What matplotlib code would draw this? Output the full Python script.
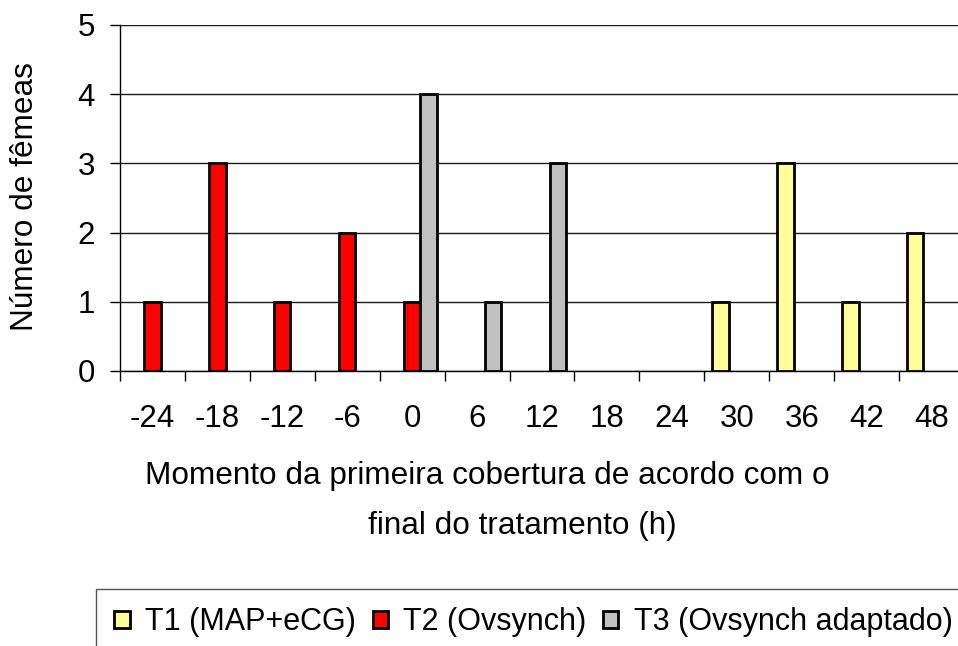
import numpy as np
import matplotlib
matplotlib.use('Agg')
import matplotlib.pyplot as plt

plt.rcParams['font.family'] = ['Liberation Sans', 'DejaVu Sans']

# dados
horas = ['-24', '-18', '-12', '-6', '0', '6', '12', '18', '24', '30', '36', '42', '48']
t1 = [0, 0, 0, 0, 0, 0, 0, 0, 0, 1, 3, 1, 2]
t2 = [1, 3, 1, 2, 1, 0, 0, 0, 0, 0, 0, 0, 0]
t3 = [0, 0, 0, 0, 4, 1, 3, 0, 0, 0, 0, 0, 0]
series = [
    ('T1 (MAP+eCG)', t1, '#FFFF99'),
    ('T2 (Ovsynch)', t2, '#FF0000'),
    ('T3 (Ovsynch adaptado)', t3, '#C0C0C0'),
]

W, H = 958, 646
fig = plt.figure(figsize=(W / 100, H / 100), dpi=100)
ax = fig.add_axes([120 / W, 1 - 371 / H, 844 / W, 346 / H])

x = np.arange(len(horas))
largura = 0.25
handles = []
for i, (nome, valores, cor) in enumerate(series):
    valores = np.array(valores)
    idx = np.nonzero(valores)[0]
    ax.bar(x[idx] + (i - 1) * largura, valores[idx], largura,
           color=cor, edgecolor='black', linewidth=2, zorder=3)
    handles.append(plt.Rectangle((0, 0), 1, 1, facecolor=cor,
                                 edgecolor='black', linewidth=2))

ax.set_xlim(-0.5, len(horas) - 0.5)
ax.set_ylim(0, 5)
ax.set_yticks(range(6))
ax.yaxis.grid(True, color='#1a1a1a', linewidth=1.0, zorder=0)
ax.set_axisbelow(True)

# rótulos no centro, marcas entre categorias
ax.set_xticks(x)
ax.set_xticklabels(horas)
ax.set_xticks(np.arange(-0.5, len(horas), 1), minor=True)
ax.tick_params(axis='x', which='major', length=0, pad=24, labelsize=22.5)
ax.tick_params(axis='x', which='minor', length=7, width=1, direction='out')
ax.tick_params(axis='y', length=7, width=1, direction='out', pad=11, labelsize=22.5)

for s in ['top', 'right']:
    ax.spines[s].set_visible(False)
ax.spines['left'].set_linewidth(1)
ax.spines['bottom'].set_linewidth(1)

fig.text(25 / W, 1 - 197 / H, 'Número de fêmeas', rotation=90,
         ha='center', va='center', fontsize=22.7)
fig.text(487 / W, 1 - 476 / H, 'Momento da primeira cobertura de acordo com o',
         ha='center', va='center', fontsize=22.7)
fig.text(522 / W, 1 - 526 / H, 'final do tratamento (h)',
         ha='center', va='center', fontsize=22.7)

leg = fig.legend(handles, [s[0] for s in series], loc='upper left',
                 bbox_to_anchor=(96 / W, 1 - 589 / H), ncol=3, fontsize=22,
                 handlelength=0.5, handleheight=0.5, handletextpad=0.5,
                 columnspacing=0.55, borderpad=0.6, borderaxespad=0,
                 fancybox=False, framealpha=1)
leg.get_frame().set_edgecolor('#555555')
leg.get_frame().set_linewidth(1)

fig.savefig('out.png', dpi=100)
